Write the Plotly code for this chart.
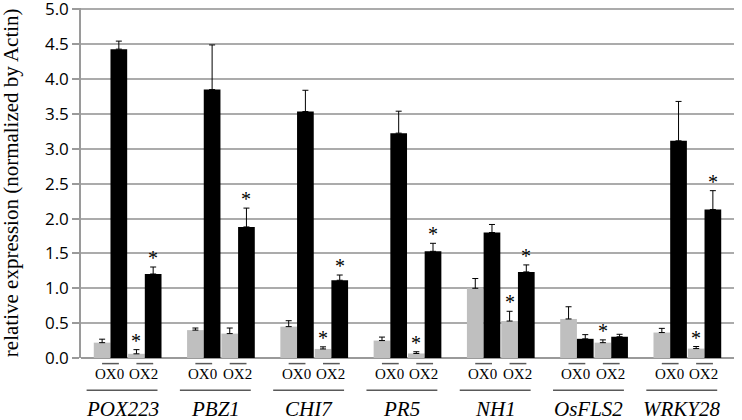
import plotly.graph_objects as go

genes = ["POX223", "PBZ1", "CHI7", "PR5", "NH1", "OsFLS2", "WRKY28"]
lines = ["OX0", "OX2"]

# gray series (first bar of each pair)
gray_ox0 = [0.22, 0.40, 0.45, 0.25, 1.00, 0.56, 0.365]
gray_ox0_err = [0.05, 0.03, 0.085, 0.05, 0.14, 0.175, 0.06]
gray_ox2 = [0.06, 0.35, 0.13, 0.065, 0.53, 0.22, 0.135]
gray_ox2_err = [0.06, 0.08, 0.03, 0.025, 0.14, 0.04, 0.03]
# black series (second bar of each pair)
black_ox0 = [4.43, 3.85, 3.535, 3.225, 1.80, 0.275, 3.115]
black_ox0_err = [0.115, 0.64, 0.305, 0.315, 0.115, 0.06, 0.565]
black_ox2 = [1.205, 1.88, 1.115, 1.53, 1.235, 0.305, 2.13]
black_ox2_err = [0.10, 0.27, 0.075, 0.115, 0.10, 0.035, 0.27]
# significance marks (*)
sig_gray_ox2 = [1, 0, 1, 1, 1, 1, 1]
sig_black_ox2 = [1, 1, 1, 1, 1, 0, 1]

y_ticks = [0, 0.5, 1.0, 1.5, 2.0, 2.5, 3.0, 3.5, 4.0, 4.5, 5.0]

PAIR = 0.184   # half distance between OX0 and OX2 pair centres (gene units)
BW = 0.179     # bar width
HALF = 0.0895  # half offset between gray and black bar in a pair

GRAY = "#bfbfbf"
n = len(genes)
fig = go.Figure()

def xs(sign_pair, sign_bar):
    return [i + sign_pair * PAIR + sign_bar * HALF for i in range(n)]

series = [
    (xs(-1, -1), gray_ox0, gray_ox0_err, GRAY),
    (xs(+1, -1), gray_ox2, gray_ox2_err, GRAY),
    (xs(-1, +1), black_ox0, black_ox0_err, "#000000"),
    (xs(+1, +1), black_ox2, black_ox2_err, "#000000"),
]
for x, y, e, c in series:
    fig.add_trace(go.Bar(
        x=x, y=y, width=BW, marker=dict(color=c, line=dict(width=0)),
        error_y=dict(type="data", array=e, symmetric=False, arrayminus=[0]*n,
                     color="#000000", thickness=1, width=3),
        showlegend=False, hoverinfo="skip"))

annotations = []
# asterisks above error bars
for i in range(n):
    marks = []
    if sig_gray_ox2[i]:
        marks.append((i + PAIR - HALF, gray_ox2[i] + gray_ox2_err[i]))
    if sig_black_ox2[i]:
        marks.append((i + PAIR + HALF, black_ox2[i] + black_ox2_err[i]))
    for mx, my in marks:
        annotations.append(dict(x=mx, y=my, xref="x", yref="y", text="*",
                                showarrow=False, xanchor="center", yanchor="bottom",
                                yshift=-4,
                                font=dict(family="Liberation Serif", size=20, color="#000")))

LINE_C = "#595959"
shapes = []
for i, g in enumerate(genes):
    for j, lab in enumerate(lines):
        cx = i + (2 * j - 1) * PAIR
        shapes.append(dict(type="line", xref="x", yref="paper",
                           x0=cx - 0.09, x1=cx + 0.09, y0=-0.016, y1=-0.016,
                           line=dict(color=LINE_C, width=1.5)))
        annotations.append(dict(x=cx - 0.01, y=-0.047, xref="x", yref="paper",
                                text=lab, showarrow=False, xanchor="center", yanchor="middle",
                                font=dict(family="Liberation Serif", size=15, color="#000")))
    shapes.append(dict(type="line", xref="x", yref="paper",
                       x0=i - 0.44, x1=i + 0.32, y0=-0.092, y1=-0.092,
                       line=dict(color=LINE_C, width=1.5)))
    annotations.append(dict(x=i - 0.06, y=-0.146, xref="x", yref="paper",
                            text="<i>" + g + "</i>", showarrow=False,
                            xanchor="center", yanchor="middle",
                            font=dict(family="Liberation Serif", size=21, color="#000")))

annotations.append(dict(x=-0.107, y=0.5, xref="paper", yref="paper",
                        text="relative expression (normalized by Actin)", textangle=-90,
                        showarrow=False, xanchor="center", yanchor="middle",
                        font=dict(family="Liberation Serif", size=21, color="#000")))

fig.update_layout(
    width=742, height=420,
    margin=dict(l=81, r=8, t=7.6, b=61.5, autoexpand=False),
    paper_bgcolor="white", plot_bgcolor="white",
    barmode="overlay",
    shapes=shapes, annotations=annotations,
    xaxis=dict(range=[-0.5, 6.5], showticklabels=False, showgrid=False,
               zeroline=False, showline=False, ticks="", automargin=False),
    yaxis=dict(range=[0, 5.02], tickvals=y_ticks, tickformat=".1f",
               ticklabeloverflow="allow", automargin=False,
               showgrid=True, gridcolor="#ababab", gridwidth=1.5,
               zeroline=True, zerolinecolor="#9a9a9a", zerolinewidth=1.5,
               showline=True, linecolor="#9a9a9a", linewidth=1.5,
               ticks="outside", ticklen=7, tickcolor="#9a9a9a", tickwidth=1.5,
               tickfont=dict(family="Open Sans", size=17, color="#000")),
)

fig.write_html("out.html", config={"displayModeBar": False},
               post_script="document.body.style.margin='0px';document.body.style.overflow='hidden';")
